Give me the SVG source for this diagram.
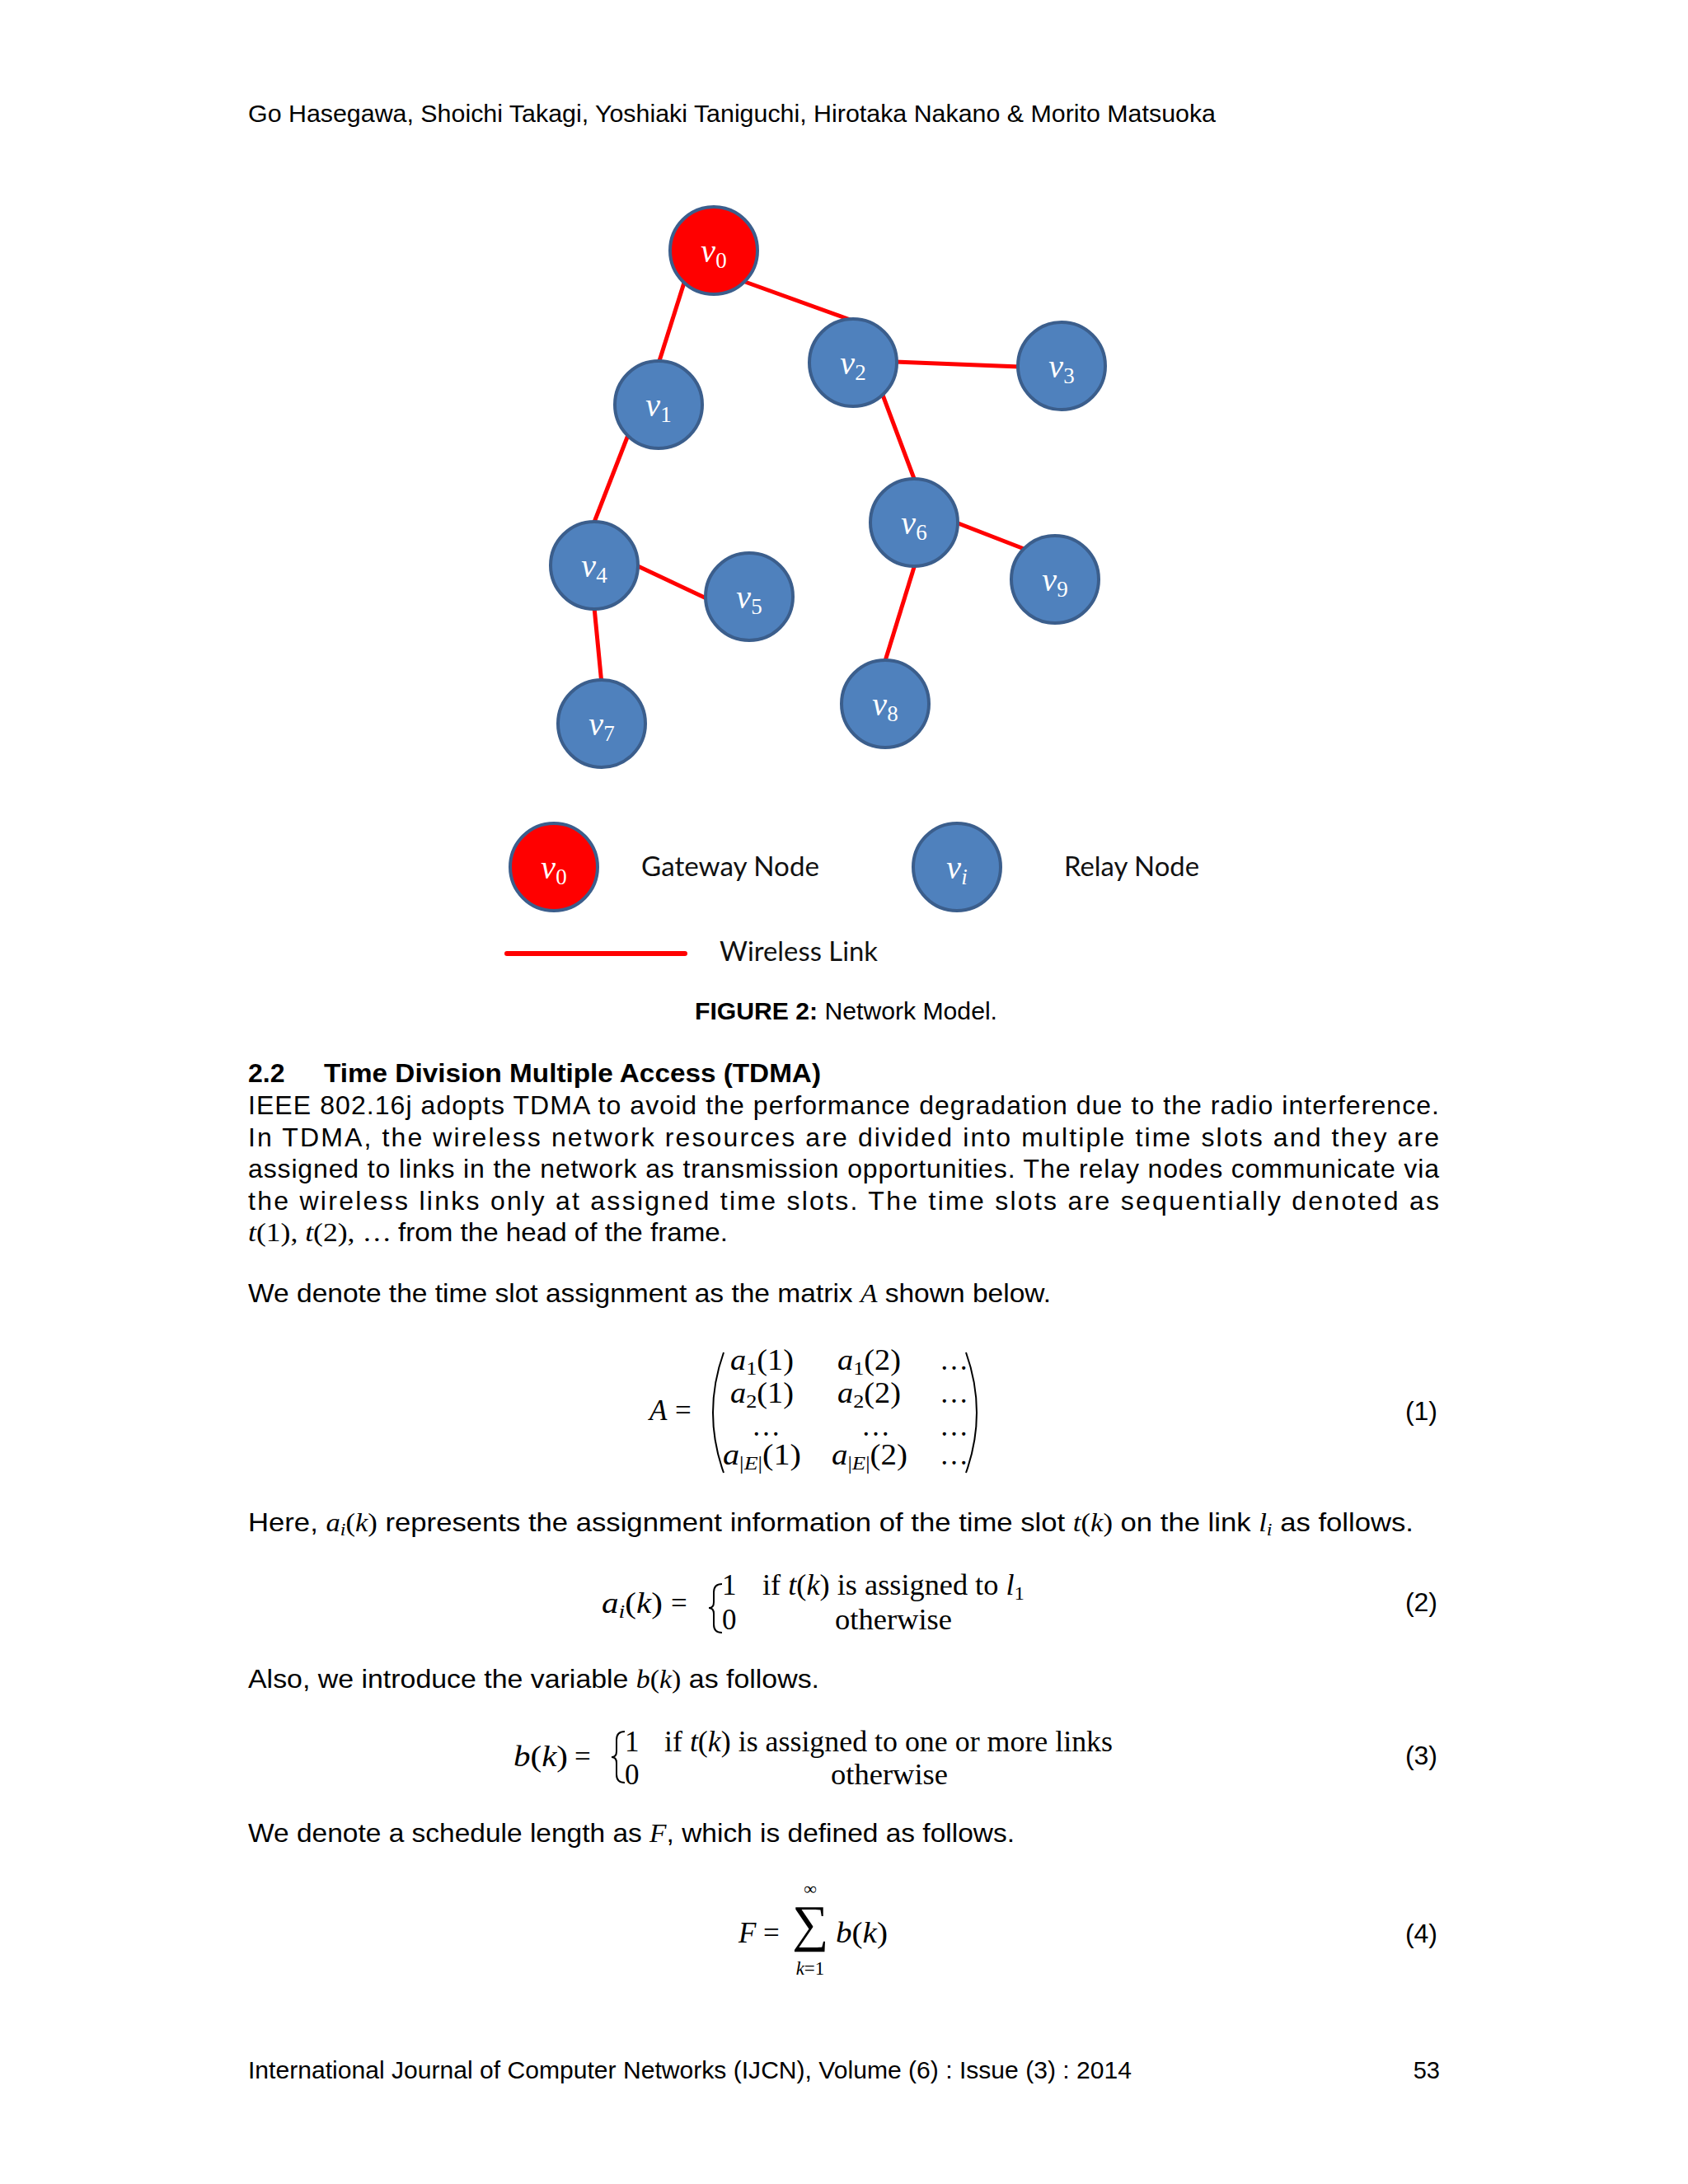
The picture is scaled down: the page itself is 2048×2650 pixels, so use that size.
<svg xmlns="http://www.w3.org/2000/svg" width="2048" height="2650" viewBox="0 0 2048 2650">
<style>
.bg{fill:#ffffff}
.node circle{stroke:#3b5e8c;stroke-width:4}
.relay circle{fill:#4f81bd}
.gw circle{fill:#ff0000}
.lbl{font-family:"Liberation Serif",serif;fill:#ffffff;text-anchor:middle}
.lv{font-style:italic;font-size:40px}
.ls{font-size:27px}
.edge{stroke:#ff0000;stroke-width:5;stroke-linecap:butt}
.leg{font-family:Lato,"Liberation Sans",sans-serif;font-size:32px;fill:#111111}
.t{font-family:"Liberation Sans",Arial,sans-serif;font-size:32px;fill:#000000}
.s{font-size:29px}
.b{font-weight:bold}
.m{font-family:"Liberation Serif",serif;font-style:italic}
.mr{font-family:"Liberation Serif",serif;font-style:normal}
.eq{font-family:"Liberation Serif",serif;font-size:35px;fill:#000000}
.it{font-style:italic}
.sub{font-size:24px}
.delim{fill:none;stroke:#000000;stroke-width:2}
</style>
<rect class="bg" x="0" y="0" width="2048" height="2650"/>

<text class="t s" x="301" y="148" textLength="1174" lengthAdjust="spacingAndGlyphs">Go Hasegawa, Shoichi Takagi, Yoshiaki Taniguchi, Hirotaka Nakano &amp; Morito Matsuoka</text>

<g id="connectors">
<line class="edge" x1="830" y1="343" x2="799" y2="441"/>
<line class="edge" x1="904" y1="342" x2="1037" y2="390"/>
<line class="edge" x1="1086" y1="439" x2="1237" y2="445"/>
<line class="edge" x1="1069" y1="474" x2="1111" y2="586"/>
<line class="edge" x1="762" y1="528" x2="720" y2="636"/>
<line class="edge" x1="772" y1="686" x2="859" y2="727"/>
<line class="edge" x1="721" y1="737" x2="730" y2="830"/>
<line class="edge" x1="1160" y1="634" x2="1245" y2="667"/>
<line class="edge" x1="1110" y1="685" x2="1073" y2="805"/>
</g>

<g id="v0" class="node gw"><circle cx="866" cy="304" r="53"/><text class="lbl" x="866" y="318"><tspan class="lv">v</tspan><tspan class="ls" dy="7">0</tspan></text></g>
<g id="v1" class="node relay"><circle cx="799" cy="491" r="53"/><text class="lbl" x="799" y="505"><tspan class="lv">v</tspan><tspan class="ls" dy="7">1</tspan></text></g>
<g id="v2" class="node relay"><circle cx="1035" cy="440" r="53"/><text class="lbl" x="1035" y="454"><tspan class="lv">v</tspan><tspan class="ls" dy="7">2</tspan></text></g>
<g id="v3" class="node relay"><circle cx="1288" cy="444" r="53"/><text class="lbl" x="1288" y="458"><tspan class="lv">v</tspan><tspan class="ls" dy="7">3</tspan></text></g>
<g id="v4" class="node relay"><circle cx="721" cy="686" r="53"/><text class="lbl" x="721" y="700"><tspan class="lv">v</tspan><tspan class="ls" dy="7">4</tspan></text></g>
<g id="v5" class="node relay"><circle cx="909" cy="724" r="53"/><text class="lbl" x="909" y="738"><tspan class="lv">v</tspan><tspan class="ls" dy="7">5</tspan></text></g>
<g id="v6" class="node relay"><circle cx="1109" cy="634" r="53"/><text class="lbl" x="1109" y="648"><tspan class="lv">v</tspan><tspan class="ls" dy="7">6</tspan></text></g>
<g id="v9" class="node relay"><circle cx="1280" cy="703" r="53"/><text class="lbl" x="1280" y="717"><tspan class="lv">v</tspan><tspan class="ls" dy="7">9</tspan></text></g>
<g id="v8" class="node relay"><circle cx="1074" cy="854" r="53"/><text class="lbl" x="1074" y="868"><tspan class="lv">v</tspan><tspan class="ls" dy="7">8</tspan></text></g>
<g id="v7" class="node relay"><circle cx="730" cy="878" r="53"/><text class="lbl" x="730" y="892"><tspan class="lv">v</tspan><tspan class="ls" dy="7">7</tspan></text></g>

<g id="legend">
<g id="legend-gateway" class="node gw"><circle cx="672" cy="1052" r="53"/><text class="lbl" x="672" y="1066"><tspan class="lv">v</tspan><tspan class="ls" dy="7">0</tspan></text></g>
<text class="leg" x="778" y="1063" textLength="216" lengthAdjust="spacingAndGlyphs">Gateway Node</text>
<g id="legend-relay" class="node relay"><circle cx="1161" cy="1052" r="53"/><text class="lbl" x="1161" y="1066"><tspan class="lv">v</tspan><tspan class="ls it" dy="7">i</tspan></text></g>
<text class="leg" x="1291" y="1063" textLength="164" lengthAdjust="spacingAndGlyphs">Relay Node</text>
<line x1="615" y1="1157" x2="831" y2="1157" stroke="#ff0000" stroke-width="6" stroke-linecap="round"/>
<text class="leg" x="873" y="1166" textLength="192" lengthAdjust="spacingAndGlyphs">Wireless Link</text>
</g>

<text class="t s" x="843" y="1237" textLength="367" lengthAdjust="spacingAndGlyphs"><tspan class="b">FIGURE 2:</tspan> Network Model.</text>

<text class="t b" x="301" y="1313">2.2</text>
<text class="t b" x="393" y="1313" textLength="603" lengthAdjust="spacingAndGlyphs">Time Division Multiple Access (TDMA)</text>
<text class="t" x="301" y="1352" textLength="1445" lengthAdjust="spacing">IEEE 802.16j adopts TDMA to avoid the performance degradation due to the radio interference.</text>
<text class="t" x="301" y="1391" textLength="1445" lengthAdjust="spacing">In TDMA, the wireless network resources are divided into multiple time slots and they are</text>
<text class="t" x="301" y="1429" textLength="1445" lengthAdjust="spacing">assigned to links in the network as transmission opportunities. The relay nodes communicate via</text>
<text class="t" x="301" y="1468" textLength="1445" lengthAdjust="spacing">the wireless links only at assigned time slots. The time slots are sequentially denoted as</text>
<text class="t" x="301" y="1506" font-size="35" textLength="174" lengthAdjust="spacingAndGlyphs"><tspan class="m">t</tspan><tspan class="mr">(1), </tspan><tspan class="m">t</tspan><tspan class="mr">(2), …</tspan></text>
<text class="t" x="483" y="1506" textLength="400" lengthAdjust="spacingAndGlyphs">from the head of the frame.</text>

<text class="t" x="301" y="1580" textLength="974" lengthAdjust="spacingAndGlyphs">We denote the time slot assignment as the matrix <tspan class="m">A</tspan> shown below.</text>

<g id="eq1" class="eq">
<text x="788" y="1723" class="it">A</text>
<text x="819" y="1723">=</text>
<path class="delim" d="M878 1641 Q852 1714 878 1787"/>
<path class="delim" d="M1172 1641 Q1198 1714 1172 1787"/>
<text x="886" y="1662" textLength="77" lengthAdjust="spacingAndGlyphs"><tspan class="it">a</tspan><tspan class="sub" dy="6">1</tspan><tspan dy="-6">(1)</tspan></text>
<text x="1016" y="1662" textLength="77" lengthAdjust="spacingAndGlyphs"><tspan class="it">a</tspan><tspan class="sub" dy="6">1</tspan><tspan dy="-6">(2)</tspan></text>
<text x="1140" y="1662">…</text>
<text x="886" y="1702" textLength="77" lengthAdjust="spacingAndGlyphs"><tspan class="it">a</tspan><tspan class="sub" dy="6">2</tspan><tspan dy="-6">(1)</tspan></text>
<text x="1016" y="1702" textLength="77" lengthAdjust="spacingAndGlyphs"><tspan class="it">a</tspan><tspan class="sub" dy="6">2</tspan><tspan dy="-6">(2)</tspan></text>
<text x="1140" y="1702">…</text>
<text x="912" y="1742">…</text>
<text x="1045" y="1742">…</text>
<text x="1140" y="1742">…</text>
<text x="877" y="1777" textLength="95" lengthAdjust="spacingAndGlyphs"><tspan class="it">a</tspan><tspan class="sub" dy="6">|<tspan class="it">E</tspan>|</tspan><tspan dy="-6">(1)</tspan></text>
<text x="1009" y="1777" textLength="92" lengthAdjust="spacingAndGlyphs"><tspan class="it">a</tspan><tspan class="sub" dy="6">|<tspan class="it">E</tspan>|</tspan><tspan dy="-6">(2)</tspan></text>
<text x="1140" y="1777">…</text>
</g>
<text class="t" x="1744" y="1723" text-anchor="end">(1)</text>

<text class="t" x="301" y="1858" textLength="1414" lengthAdjust="spacingAndGlyphs">Here, <tspan class="m">a</tspan><tspan class="m" font-size="22" dy="5">i</tspan><tspan class="mr" dy="-5">(</tspan><tspan class="m">k</tspan><tspan class="mr">)</tspan> represents the assignment information of the time slot <tspan class="m">t</tspan><tspan class="mr">(</tspan><tspan class="m">k</tspan><tspan class="mr">)</tspan> on the link <tspan class="m">l</tspan><tspan class="m" font-size="22" dy="5">i</tspan><tspan dy="-5"> as follows.</tspan></text>

<g id="eq2" class="eq">
<text x="730" y="1957" textLength="74" lengthAdjust="spacingAndGlyphs"><tspan class="it">a</tspan><tspan class="sub it" dy="6">i</tspan><tspan dy="-6">(</tspan><tspan class="it">k</tspan>)</text>
<text x="814" y="1957">=</text>
<path class="delim" d="M876 1922 Q866 1922 866 1932 L866 1944 Q866 1951 860 1951 Q866 1951 866 1958 L866 1971 Q866 1981 876 1981"/>
<text x="876" y="1935">1</text>
<text x="876" y="1977">0</text>
<text x="925" y="1935" textLength="318" lengthAdjust="spacingAndGlyphs">if <tspan class="it">t</tspan>(<tspan class="it">k</tspan>) is assigned to <tspan class="it">l</tspan><tspan class="sub" dy="6">1</tspan></text>
<text x="1013" y="1977" textLength="142" lengthAdjust="spacingAndGlyphs">otherwise</text>
</g>
<text class="t" x="1744" y="1955" text-anchor="end">(2)</text>

<text class="t" x="301" y="2048" textLength="693" lengthAdjust="spacingAndGlyphs">Also, we introduce the variable <tspan class="m">b</tspan><tspan class="mr">(</tspan><tspan class="m">k</tspan><tspan class="mr">)</tspan> as follows.</text>

<g id="eq3" class="eq">
<text x="623" y="2143" textLength="66" lengthAdjust="spacingAndGlyphs"><tspan class="it">b</tspan>(<tspan class="it">k</tspan>)</text>
<text x="697" y="2143">=</text>
<path class="delim" d="M758 2101 Q748 2101 748 2111 L748 2125 Q748 2132 742 2132 Q748 2132 748 2139 L748 2153 Q748 2163 758 2163"/>
<text x="758" y="2125">1</text>
<text x="758" y="2165">0</text>
<text x="806" y="2125" textLength="544" lengthAdjust="spacingAndGlyphs">if <tspan class="it">t</tspan>(<tspan class="it">k</tspan>) is assigned to one or more links</text>
<text x="1008" y="2165" textLength="142" lengthAdjust="spacingAndGlyphs">otherwise</text>
</g>
<text class="t" x="1744" y="2141" text-anchor="end">(3)</text>

<text class="t" x="301" y="2235" textLength="930" lengthAdjust="spacingAndGlyphs">We denote a schedule length as <tspan class="m">F</tspan>, which is defined as follows.</text>

<g id="eq4" class="eq">
<text x="896" y="2357" class="it">F</text>
<text x="926" y="2357">=</text>
<text x="983" y="2355" font-size="62" text-anchor="middle">∑</text>
<text x="983" y="2299" font-size="22" text-anchor="middle">∞</text>
<text x="983" y="2396" font-size="23" text-anchor="middle"><tspan class="it">k</tspan>=1</text>
<text x="1014" y="2357" textLength="63" lengthAdjust="spacingAndGlyphs"><tspan class="it">b</tspan>(<tspan class="it">k</tspan>)</text>
</g>
<text class="t" x="1744" y="2357" text-anchor="end">(4)</text>

<text class="t s" x="301" y="2522" textLength="1072" lengthAdjust="spacingAndGlyphs">International Journal of Computer Networks (IJCN), Volume (6) : Issue (3) : 2014</text>
<text class="t s" x="1747" y="2522" text-anchor="end">53</text>
</svg>
